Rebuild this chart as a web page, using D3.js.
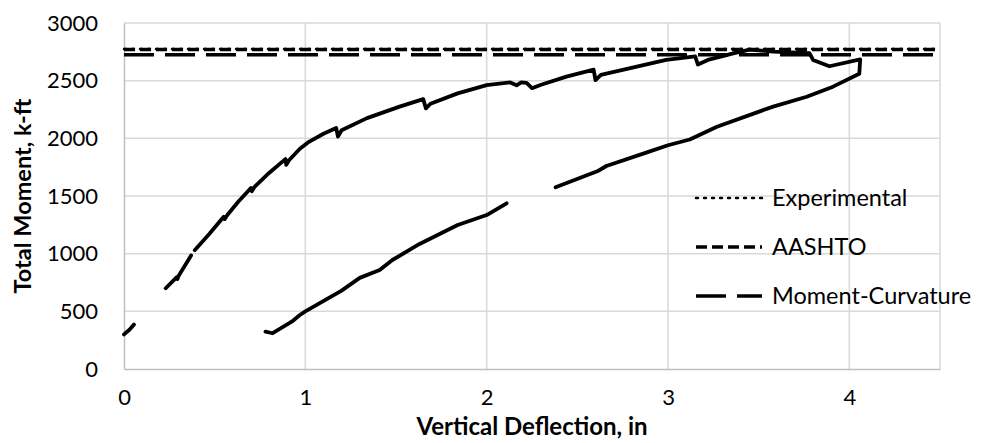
<!DOCTYPE html>
<html>
<head>
<meta charset="utf-8">
<script src="https://cdn.jsdelivr.net/npm/d3@7"></script>
<style>
  html, body { margin: 0; padding: 0; background: #fff; }
  svg { display: block; }
</style>
</head>
<body>
<svg id="chart" width="984" height="443"></svg>
<script>
// ---- data ----
const xTicks = [0, 1, 2, 3, 4];
const yTicks = [0, 500, 1000, 1500, 2000, 2500, 3000];

// Experimental load-deflection curve (null = gap in the record)
const deflection = [
  0.0, 0.03, 0.055,
  null,
  0.23, 0.29, 0.295, 0.30, 0.37,
  null,
  0.39, 0.47, 0.55, 0.555, 0.57, 0.63, 0.70, 0.705, 0.72, 0.80, 0.89, 0.895, 0.91, 0.97,
  1.02, 1.10, 1.17, 1.18, 1.20, 1.34, 1.52, 1.65, 1.665, 1.69, 1.84, 2.00, 2.13, 2.165,
  2.19, 2.22, 2.25, 2.30, 2.44, 2.59, 2.60, 2.63, 2.81, 2.99, 3.15, 3.165, 3.22, 3.36,
  3.45, 3.58, 3.78, 3.80, 3.89, 4.06, 4.055,
  3.91, 3.765, 3.58, 3.27, 3.12, 3.00, 2.88, 2.66, 2.61, 2.38,
  null,
  2.11, 2.00, 1.84, 1.63, 1.48, 1.41, 1.30, 1.20, 1.00, 0.97, 0.925, 0.82, 0.78
];
const moment = [
  300, 340, 385,
  null,
  700, 795, 780, 805, 985,
  null,
  1030, 1170, 1320, 1300, 1335, 1450, 1570, 1540, 1580, 1700, 1820, 1770, 1810, 1910,
  1970, 2040, 2090, 2015, 2070, 2175, 2275, 2340, 2260, 2300, 2390, 2462, 2485, 2460,
  2485, 2480, 2435, 2465, 2535, 2595, 2505, 2550, 2615, 2680, 2710, 2640, 2680, 2737,
  2770, 2752, 2738, 2680, 2625, 2685, 2560,
  2448, 2361, 2275, 2101, 1990, 1940, 1876, 1760, 1714, 1575,
  null,
  1437, 1335, 1249, 1084, 945, 858, 790, 680, 500, 468, 410, 310, 324
];

const refNames = ["Experimental", "AASHTO", "Moment-Curvature"];
const refValues = [2775, 2770, 2725];
const refDash = ["2,6", "11,5", "30,11"];
const refCap = ["round", "butt", "butt"];

// ---- layout ----
const svg = d3.select("#chart");
const mLeft = 124, mRight = 940, mTop = 23, mBottom = 369;
const x = d3.scaleLinear().domain([0, 4.5]).range([mLeft, mRight]);
const y = d3.scaleLinear().domain([0, 3000]).range([mBottom, mTop]);
const font = "Lato, 'Open Sans', sans-serif";
const fs = 22;

// gridlines
svg.append("g").selectAll("line").data(yTicks.filter(d => d > 0)).join("line")
  .attr("x1", mLeft).attr("x2", mRight)
  .attr("y1", d => y(d)).attr("y2", d => y(d))
  .attr("stroke", "#d9d9d9").attr("stroke-width", 1.5);
svg.append("g").selectAll("line").data(xTicks.filter(d => d > 0).concat([4.5])).join("line")
  .attr("y1", mTop).attr("y2", mBottom)
  .attr("x1", d => x(d)).attr("x2", d => x(d))
  .attr("stroke", "#d9d9d9").attr("stroke-width", 1.5);

// axes
const xAxis = d3.axisBottom(x).tickValues(xTicks).tickSize(0).tickPadding(20).tickFormat(d3.format("d"));
const yAxis = d3.axisLeft(y).tickValues(yTicks).tickSize(0).tickPadding(26).tickFormat(d3.format("d"));
const gx = svg.append("g").attr("transform", `translate(0,${mBottom})`).call(xAxis);
const gy = svg.append("g").attr("transform", `translate(${mLeft},0)`).call(yAxis);
[gx, gy].forEach(g => {
  g.select(".domain").attr("stroke", "#bfbfbf").attr("stroke-width", 1.5);
  g.selectAll("text").attr("font-family", font).attr("font-size", fs).attr("fill", "#000");
});

// reference horizontal lines
refValues.forEach((v, i) => {
  svg.append("line")
    .attr("x1", mLeft).attr("x2", mRight)
    .attr("y1", y(v)).attr("y2", y(v))
    .attr("stroke", "#000").attr("stroke-width", i === 0 ? 2.5 : 3.5)
    .attr("stroke-dasharray", refDash[i]).attr("stroke-linecap", refCap[i]);
});

// experimental curve
const pts = deflection.map((d, i) => [d, moment[i]]);
const line = d3.line()
  .defined(d => d[0] !== null && d[1] !== null)
  .x(d => x(d[0])).y(d => y(d[1]));
svg.append("path").datum(pts)
  .attr("d", line)
  .attr("fill", "none").attr("stroke", "#000").attr("stroke-width", 3.8)
  .attr("stroke-linejoin", "round").attr("stroke-linecap", "round");

// legend
const legendY = [198, 247, 296];
refNames.forEach((n, i) => {
  svg.append("line")
    .attr("x1", 696).attr("x2", 762)
    .attr("y1", legendY[i]).attr("y2", legendY[i])
    .attr("stroke", "#000").attr("stroke-width", i === 0 ? 2.5 : 3.5)
    .attr("stroke-dasharray", refDash[i]).attr("stroke-linecap", refCap[i]);
  svg.append("text")
    .attr("x", 772).attr("y", legendY[i]).attr("dy", "0.36em")
    .attr("font-family", font).attr("font-size", 23.5).attr("fill", "#000")
    .text(n);
});

// axis titles
svg.append("text")
  .attr("x", (mLeft + mRight) / 2).attr("y", 435)
  .attr("text-anchor", "middle")
  .attr("font-family", font).attr("font-size", 24).attr("font-weight", "bold")
  .text("Vertical Deflection, in");
svg.append("text")
  .attr("transform", `translate(31,${(mTop + mBottom) / 2}) rotate(-90)`)
  .attr("text-anchor", "middle")
  .attr("font-family", font).attr("font-size", 23.5).attr("font-weight", "bold")
  .text("Total Moment, k-ft");
</script>
</body>
</html>
